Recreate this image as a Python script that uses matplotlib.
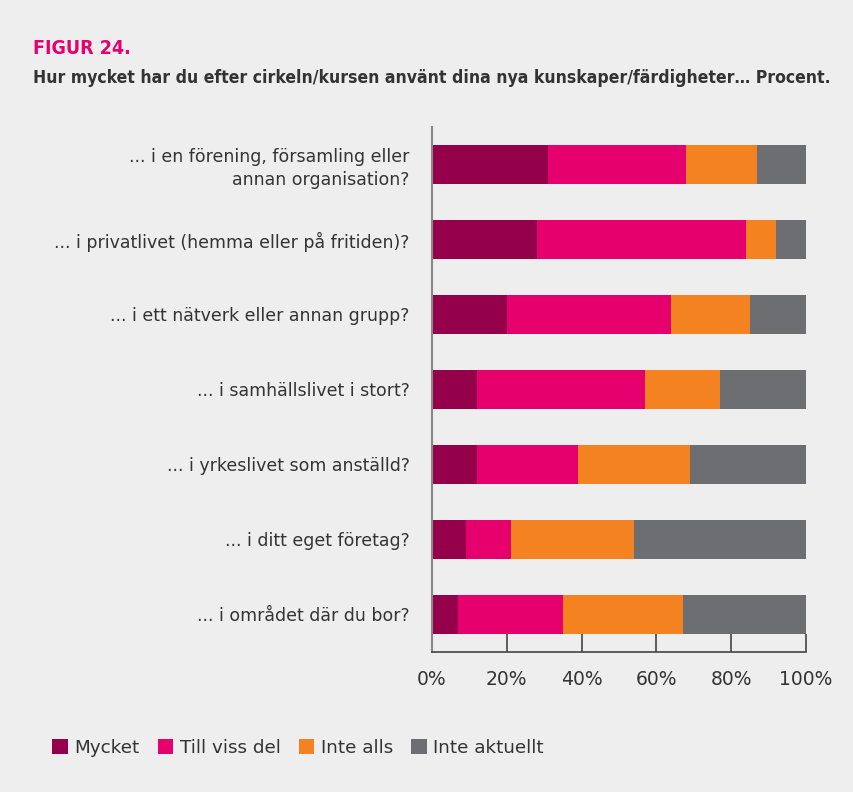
import numpy as np
import matplotlib.pyplot as plt

categories = ["... i en förening, församling eller\nannan organisation?",
              "... i privatlivet (hemma eller på fritiden)?",
              "... i ett nätverk eller annan grupp?",
              "... i samhällslivet i stort?",
              "... i yrkeslivet som anställd?",
              "... i ditt eget företag?",
              "... i området där du bor?"]
mycket = [31, 28, 20, 12, 12, 9, 7]
till_viss_del = [37, 56, 44, 45, 27, 12, 28]
inte_alls = [19, 8, 21, 20, 30, 33, 32]
inte_aktuellt = [13, 8, 15, 23, 31, 46, 33]

series = ["Mycket", "Till viss del", "Inte alls", "Inte aktuellt"]
colors = ["#94004A", "#E6006E", "#F58220", "#6D6E71"]
bg = "#EEEEEE"

fig = plt.figure(figsize=(8.54, 7.92), dpi=100, facecolor=bg)
ax = fig.add_axes([0.5059, 0.1768, 0.438, 0.6629], facecolor=bg)

y = np.arange(len(categories))
left = np.zeros(len(categories))
for name, vals, c in zip(series, [mycket, till_viss_del, inte_alls, inte_aktuellt], colors):
    ax.barh(y, vals, left=left, height=0.52, color=c, label=name)
    left += np.array(vals)

ax.set_xlim(0, 100)
ax.set_ylim(6.5, -0.5)
ax.set_yticks(y)
ax.set_yticklabels(categories, fontsize=12.5, color="#333333", linespacing=1.35)
ax.tick_params(axis="y", length=0, pad=16)
ax.set_xticks([0, 20, 40, 60, 80, 100])
ax.set_xticklabels(["0%", "20%", "40%", "60%", "80%", "100%"], fontsize=13.5, color="#333333")
ax.tick_params(axis="x", direction="in", length=13, width=1.2, color="#444444", pad=13)
for s in ["top", "right"]:
    ax.spines[s].set_visible(False)
ax.spines["left"].set_color("#888888")
ax.spines["left"].set_linewidth(1.5)
ax.spines["bottom"].set_color("#444444")
ax.spines["bottom"].set_linewidth(1.2)

fig.text(33/854, 1-48/792, "FIGUR 24.", color="#E6006E", fontsize=14, fontweight="bold",
         fontstretch="condensed", va="center")
fig.text(33/854, 1-78/792,
         "Hur mycket har du efter cirkeln/kursen använt dina nya kunskaper/färdigheter… Procent.",
         color="#333333", fontsize=12.6, fontweight="bold", fontstretch="condensed", va="center")

fig.legend(loc="center left", bbox_to_anchor=(52/854, 1-748/792), ncol=4, frameon=False,
           fontsize=13.2, handlelength=0.85, handleheight=0.85, handletextpad=0.35,
           columnspacing=1.0, labelcolor="#333333", borderaxespad=0, borderpad=0)

fig.savefig("out.png", dpi=100, facecolor=bg)
